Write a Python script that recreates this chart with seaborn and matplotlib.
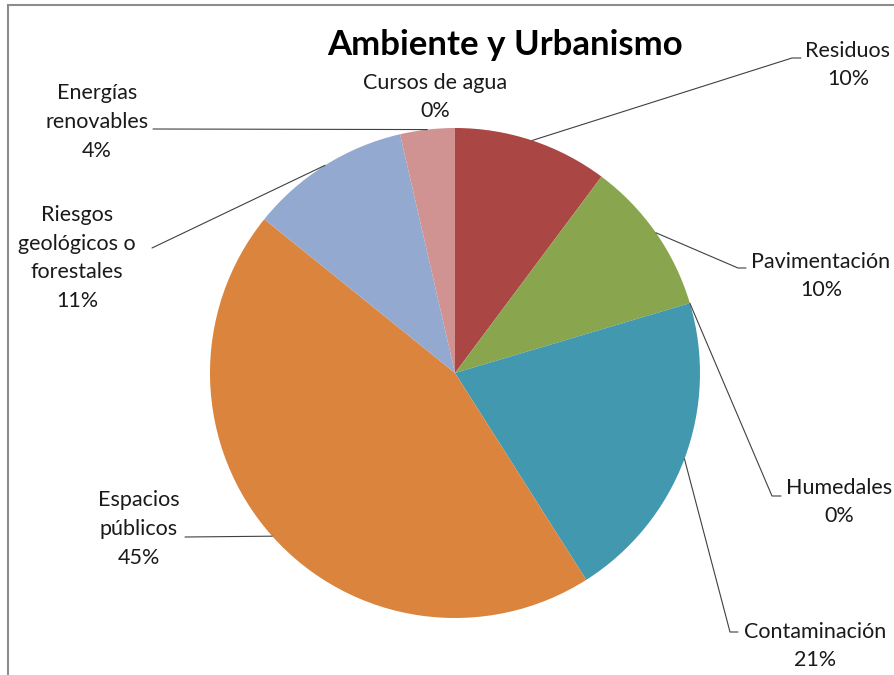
import matplotlib
matplotlib.use("Agg")
import matplotlib.pyplot as plt
import seaborn as sns
import numpy as np
from matplotlib.patches import Rectangle

# ---- data ----
categories = ["Cursos de agua", "Residuos", "Pavimentación", "Humedales",
              "Contaminación", "Espacios públicos",
              "Riesgos geológicos o forestales", "Energías renovables"]
values = [0.0, 10.2, 10.2, 0.0, 20.6, 44.8, 10.6, 3.6]
label_lines = ["Cursos de agua", "Residuos", "Pavimentación", "Humedales",
               "Contaminación", "Espacios\npúblicos",
               "Riesgos\ngeológicos o\nforestales", "Energías\nrenovables"]
colors = ["#4572A7", "#AA4643", "#89A54E", "#71588F",
          "#4198AF", "#DB843D", "#93A9CF", "#D19392"]
title = "Ambiente y Urbanismo"

sns.set_style("white")
plt.rcParams['font.family'] = ['Lato', 'DejaVu Sans']

W, H = 895, 675
fig = plt.figure(figsize=(W / 100, H / 100), dpi=100)
cx, cy, R = 455, 373, 245
ax = fig.add_axes([(cx - R) / W, (H - cy - R) / H, 2 * R / W, 2 * R / H])
wedges, _ = ax.pie(values, colors=colors, startangle=90, counterclock=False,
                   radius=1, wedgeprops=dict(linewidth=0))
ax.set_xlim(-1, 1)
ax.set_ylim(-1, 1)
ax.set_aspect('equal')
ax.axis('off')


def d(px, py):
    return ((px - cx) / R, (cy - py) / R)


# layout (pixel positions of label centres and leader-line points)
text_pos = [(435, 97), (848, 65), (821, 276), (839, 502), (815, 646),
            (139, 529), (77, 258), (97, 122)]
paths = [[], [(792, 58), (801, 58)], [(738, 268), (746, 268)],
         [(772, 496), (781, 496)], [(730, 632), (738, 632)],
         [(185, 537)], [(152, 248)], [(153, 129)]]

for i, w in enumerate(wedges):
    th = np.deg2rad((w.theta1 + w.theta2) / 2)
    if paths[i]:
        xs = [np.cos(th)] + [d(*p)[0] for p in paths[i]]
        ys = [np.sin(th)] + [d(*p)[1] for p in paths[i]]
        ax.plot(xs, ys, color="#404040", lw=0.8, clip_on=False)
    tx, ty = d(*text_pos[i])
    ax.text(tx, ty, f"{label_lines[i]}\n{values[i]:.0f}%", ha='center',
            va='center', multialignment='center', fontsize=15.5,
            color="#1a1a1a", linespacing=1.55)

fig.text(505 / W, 1 - 45 / H, title, ha='center', va='center',
         fontsize=25, fontweight='bold', color='black')

fig.add_artist(Rectangle((8 / W, -0.05), 1.2, (670 / H) + 0.05,
                         transform=fig.transFigure, fill=False,
                         edgecolor='#8c8c8c', lw=1.5))

fig.savefig("out.png", dpi=100)
